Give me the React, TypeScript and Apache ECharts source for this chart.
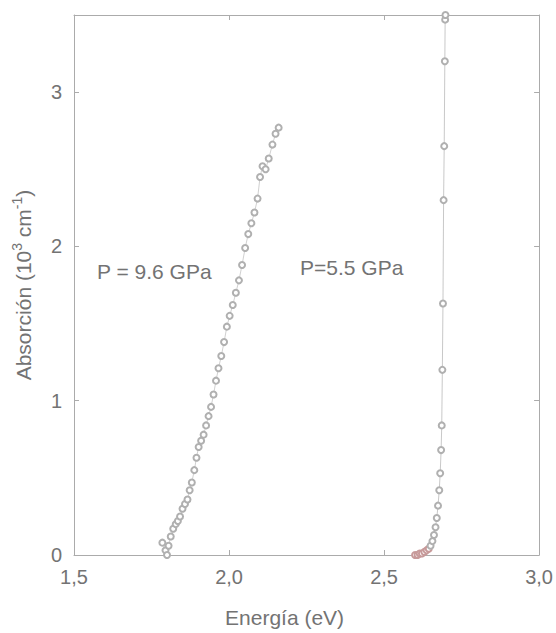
import React, { useEffect, useRef } from "react";
import * as echarts from "echarts";

// P = 9.6 GPa
const energy96 = [1.785, 1.795, 1.8, 1.805, 1.812, 1.82, 1.828, 1.835, 1.842, 1.85, 1.858, 1.866, 1.873, 1.88, 1.888, 1.895, 1.902, 1.91, 1.918, 1.926, 1.934, 1.942, 1.95, 1.958, 1.966, 1.975, 1.984, 1.993, 2.002, 2.012, 2.022, 2.032, 2.042, 2.052, 2.062, 2.072, 2.082, 2.092, 2.1, 2.108, 2.118, 2.128, 2.14, 2.15, 2.16];
const absorption96 = [0.08, 0.03, 0.0, 0.06, 0.12, 0.17, 0.2, 0.22, 0.25, 0.3, 0.33, 0.36, 0.42, 0.47, 0.55, 0.63, 0.7, 0.74, 0.78, 0.84, 0.9, 0.96, 1.04, 1.13, 1.21, 1.29, 1.38, 1.48, 1.55, 1.62, 1.7, 1.78, 1.88, 1.99, 2.08, 2.15, 2.22, 2.31, 2.45, 2.52, 2.5, 2.57, 2.66, 2.73, 2.77];

// P = 5.5 GPa
const energy55 = [2.6, 2.608, 2.615, 2.622, 2.63, 2.637, 2.644, 2.65, 2.656, 2.661, 2.666, 2.67, 2.674, 2.678, 2.681, 2.684, 2.686, 2.688, 2.69, 2.692, 2.694, 2.696, 2.697, 2.698];
const absorption55 = [0.0, 0.0, 0.01, 0.01, 0.02, 0.03, 0.04, 0.06, 0.09, 0.13, 0.18, 0.24, 0.32, 0.42, 0.53, 0.68, 0.84, 1.2, 1.63, 2.3, 2.65, 3.2, 3.47, 3.5];

const xTicks = [1.5, 2.0, 2.5, 3.0];
const yTicks = [0, 1, 2, 3];
const labels = ["P = 9.6 GPa", "P=5.5 GPa"];

const FONT = "Liberation Sans, Arial, sans-serif";
const TEXT = "#737373";
const AXIS = "#ababab";

export default function App() {
  const ref = useRef<HTMLDivElement>(null);
  useEffect(() => {
    if (!ref.current) return;
    const chart = echarts.init(ref.current, undefined, { renderer: "svg" });
    const xFmt = (v: number) => (xTicks.includes(v) ? v.toFixed(1).replace(".", ",") : "");
    const yFmt = (v: number) => (yTicks.includes(v) ? String(v) : "");
    const common = {
      splitLine: { show: false },
      axisLine: { show: true, onZero: false, lineStyle: { color: AXIS, width: 1 } },
      axisTick: { show: true, inside: true, length: 5, lineStyle: { color: AXIS } },
    };
    chart.setOption({
      animation: false,
      backgroundColor: "#ffffff",
      grid: { left: 74, right: 16, top: 15, bottom: 78, containLabel: false },
      xAxis: [
        {
          type: "value",
          min: 1.5,
          max: 3.0,
          interval: 0.5,
          position: "bottom",
          ...common,
          axisLabel: {
            formatter: xFmt,
            fontSize: 20,
            color: TEXT,
            fontFamily: FONT,
            margin: 12,
            showMinLabel: true,
            showMaxLabel: true,
          },
          name: "Energía (eV)",
          nameLocation: "middle",
          nameGap: 52,
          nameTextStyle: { fontSize: 21, color: TEXT, fontFamily: FONT, padding: [0, 44, 0, 0] },
        },
        {
          type: "value",
          min: 1.5,
          max: 3.0,
          interval: 0.5,
          position: "top",
          ...common,
          axisLabel: { show: false },
        },
      ],
      yAxis: [
        {
          type: "value",
          min: 0,
          max: 3.5,
          interval: 1,
          position: "left",
          ...common,
          axisLabel: {
            formatter: yFmt,
            fontSize: 20,
            color: TEXT,
            fontFamily: FONT,
            margin: 12,
          },
          name: "{a|Absorción (10}{s|3}{a| cm}{s|-1}{a|)}",
          nameLocation: "middle",
          nameGap: 38,
          nameTextStyle: {
            color: TEXT,
            fontFamily: FONT,
            rich: {
              a: { fontSize: 21, color: TEXT, fontFamily: FONT },
              s: { fontSize: 14, color: TEXT, fontFamily: FONT, padding: [0, 0, 12, 0] },
            },
          },
        },
        {
          type: "value",
          min: 0,
          max: 3.5,
          interval: 1,
          position: "right",
          ...common,
          axisLabel: { show: false },
        },
      ],
      graphic: [
        {
          type: "text",
          left: 97,
          top: 261,
          style: { text: labels[0], fontSize: 21, fill: TEXT, fontFamily: FONT },
        },
        {
          type: "text",
          left: 300,
          top: 257,
          style: { text: labels[1], fontSize: 21, fill: TEXT, fontFamily: FONT },
        },
      ],
      series: [
        {
          name: labels[0],
          type: "line",
          xAxisIndex: 0,
          yAxisIndex: 0,
          data: energy96.map((e, i) => [e, absorption96[i]]),
          symbol: "emptyCircle",
          symbolSize: 6,
          lineStyle: { color: "#c4c4c4", width: 0.8 },
          itemStyle: { color: "#b0b0b0", borderWidth: 0.8 },
          clip: true,
        },
        {
          name: labels[1],
          type: "line",
          xAxisIndex: 0,
          yAxisIndex: 0,
          data: energy55.map((e, i) => ({
            value: [e, absorption55[i]],
            itemStyle: i < 7 ? { color: "#c79a9a", borderColor: "#c79a9a" } : undefined,
          })),
          symbol: "emptyCircle",
          symbolSize: 6,
          lineStyle: { color: "#bababa", width: 0.8 },
          itemStyle: { color: "#b0b0b0", borderWidth: 0.8 },
          clip: true,
        },
      ],
    });
    return () => chart.dispose();
  }, []);
  return (
    <div
      ref={ref}
      style={{ position: "fixed", left: 0, top: 0, width: 556, height: 633, background: "#fff" }}
    />
  );
}
